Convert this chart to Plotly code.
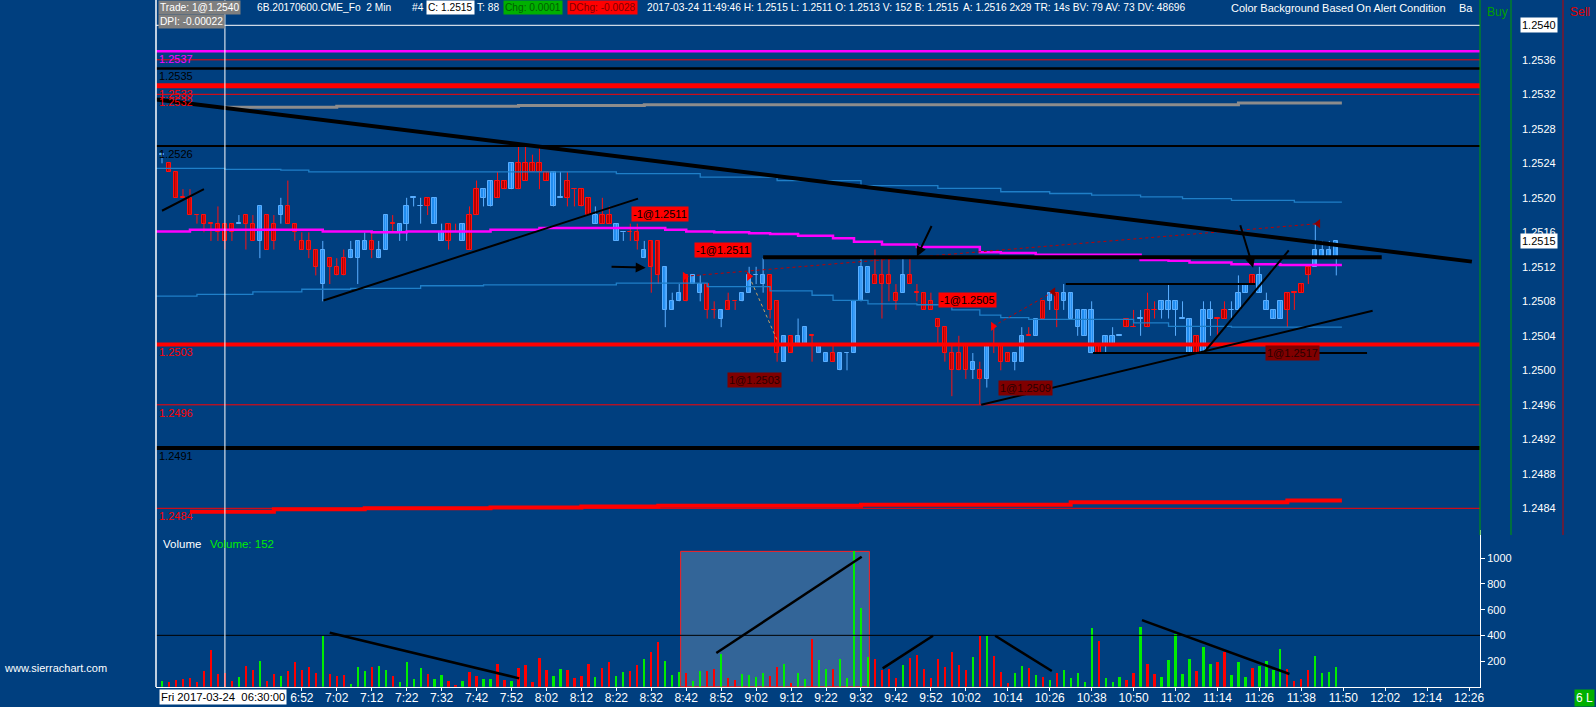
import plotly.graph_objects as go

# 6B 2 min bars, 06:12 .. 11:48 (bar index 0 = 06:12)
opens = [1.2525, 1.2524, 1.2523, 1.2520, 1.2520, 1.2518, 1.2518, 1.2517, 1.2517, 1.2517,
         1.2517, 1.2517, 1.2518, 1.2517, 1.2515, 1.2518, 1.2515, 1.2518, 1.2519, 1.2517,
         1.2515, 1.2515, 1.2514, 1.2510, 1.2513, 1.2512, 1.2511, 1.2513, 1.2513, 1.2515,
         1.2514, 1.2514, 1.2514, 1.2517, 1.2516, 1.2517, 1.2520, 1.2519, 1.2519, 1.2520,
         1.2516, 1.2515, 1.2516, 1.2517, 1.2514, 1.2518, 1.2521, 1.2522, 1.2520, 1.2522,
         1.2521, 1.2524, 1.2522, 1.2524, 1.2524, 1.2523, 1.2523, 1.2520, 1.2520, 1.2521,
         1.2521, 1.2520, 1.2518, 1.2517, 1.2518, 1.2517, 1.2516, 1.2516, 1.2516, 1.2514,
         1.2512, 1.2515, 1.2512, 1.2507, 1.2508, 1.2508, 1.2511, 1.2509, 1.2510, 1.2507,
         1.2506, 1.2508, 1.2508, 1.2508, 1.2509, 1.2511, 1.2510, 1.2511, 1.2508, 1.2501,
         1.2504, 1.2503, 1.2505, 1.2504, 1.2503, 1.2501, 1.2502, 1.2500, 1.2502, 1.2502,
         1.2508, 1.2512, 1.2510, 1.2511, 1.2511, 1.2509, 1.2509, 1.2511, 1.2509, 1.2509,
         1.2508, 1.2506, 1.2505, 1.2502, 1.2500, 1.2503, 1.2501, 1.2500, 1.2499, 1.2503,
         1.2503, 1.2501, 1.2502, 1.2501, 1.2504, 1.2504, 1.2506, 1.2508, 1.2509, 1.2508,
         1.2509, 1.2507, 1.2504, 1.2507, 1.2502, 1.2503, 1.2504, 1.2504, 1.2505, 1.2505,
         1.2506, 1.2505, 1.2507, 1.2507, 1.2507, 1.2508, 1.2506, 1.2506, 1.2502, 1.2502,
         1.2507, 1.2506, 1.2506, 1.2507, 1.2507, 1.2509, 1.2510, 1.2511, 1.2508, 1.2507,
         1.2506, 1.2507, 1.2509, 1.2509, 1.2511, 1.2512, 1.2514, 1.2513, 1.2513]
highs = [1.2525, 1.2524, 1.2523, 1.2521, 1.2521, 1.2518, 1.2518, 1.2517, 1.2519, 1.2517,
         1.2517, 1.2518, 1.2518, 1.2518, 1.2519, 1.2518, 1.2518, 1.2520, 1.2522, 1.2517,
         1.2516, 1.2516, 1.2514, 1.2515, 1.2513, 1.2513, 1.2514, 1.2515, 1.2515, 1.2516,
         1.2516, 1.2515, 1.2518, 1.2518, 1.2517, 1.2520, 1.2520, 1.2520, 1.2520, 1.2520,
         1.2517, 1.2517, 1.2517, 1.2517, 1.2519, 1.2522, 1.2521, 1.2522, 1.2523, 1.2522,
         1.2524, 1.2526, 1.2526, 1.2525, 1.2526, 1.2523, 1.2523, 1.2523, 1.2523, 1.2521,
         1.2521, 1.2520, 1.2519, 1.2520, 1.2519, 1.2517, 1.2516, 1.2517, 1.2517, 1.2515,
         1.2515, 1.2515, 1.2512, 1.2509, 1.2510, 1.2511, 1.2511, 1.2511, 1.2510, 1.2508,
         1.2507, 1.2509, 1.2508, 1.2509, 1.2512, 1.2512, 1.2513, 1.2511, 1.2508, 1.2504,
         1.2504, 1.2506, 1.2505, 1.2504, 1.2503, 1.2502, 1.2503, 1.2502, 1.2502, 1.2508,
         1.2513, 1.2512, 1.2514, 1.2513, 1.2513, 1.2510, 1.2513, 1.2513, 1.2510, 1.2509,
         1.2509, 1.2506, 1.2505, 1.2503, 1.2504, 1.2503, 1.2502, 1.2501, 1.2503, 1.2505,
         1.2503, 1.2502, 1.2502, 1.2505, 1.2505, 1.2506, 1.2508, 1.2509, 1.2509, 1.2510,
         1.2509, 1.2507, 1.2507, 1.2508, 1.2503, 1.2504, 1.2505, 1.2504, 1.2506, 1.2507,
         1.2507, 1.2509, 1.2508, 1.2508, 1.2510, 1.2508, 1.2508, 1.2506, 1.2504, 1.2508,
         1.2508, 1.2506, 1.2508, 1.2508, 1.2511, 1.2510, 1.2511, 1.2512, 1.2509, 1.2507,
         1.2508, 1.2509, 1.2509, 1.2510, 1.2512, 1.2517, 1.2515, 1.2515, 1.2515]
lows = [1.2524, 1.2523, 1.2520, 1.2520, 1.2518, 1.2517, 1.2516, 1.2515, 1.2515, 1.2514,
        1.2515, 1.2517, 1.2514, 1.2515, 1.2513, 1.2514, 1.2514, 1.2517, 1.2517, 1.2515,
        1.2514, 1.2513, 1.2511, 1.2508, 1.2510, 1.2511, 1.2511, 1.2513, 1.2510, 1.2514,
        1.2513, 1.2513, 1.2514, 1.2516, 1.2515, 1.2515, 1.2519, 1.2517, 1.2518, 1.2517,
        1.2515, 1.2514, 1.2516, 1.2515, 1.2514, 1.2518, 1.2519, 1.2519, 1.2520, 1.2521,
        1.2521, 1.2521, 1.2522, 1.2523, 1.2521, 1.2522, 1.2519, 1.2520, 1.2519, 1.2519,
        1.2519, 1.2518, 1.2517, 1.2517, 1.2517, 1.2515, 1.2515, 1.2515, 1.2514, 1.2513,
        1.2509, 1.2510, 1.2505, 1.2507, 1.2508, 1.2508, 1.2510, 1.2508, 1.2506, 1.2506,
        1.2505, 1.2507, 1.2507, 1.2508, 1.2509, 1.2510, 1.2509, 1.2506, 1.2501, 1.2501,
        1.2502, 1.2503, 1.2503, 1.2501, 1.2502, 1.2501, 1.2501, 1.2500, 1.2500, 1.2502,
        1.2508, 1.2509, 1.2510, 1.2506, 1.2508, 1.2507, 1.2509, 1.2510, 1.2508, 1.2507,
        1.2507, 1.2503, 1.2501, 1.2497, 1.2500, 1.2499, 1.2499, 1.2496, 1.2498, 1.2502,
        1.2500, 1.2501, 1.2500, 1.2501, 1.2504, 1.2504, 1.2506, 1.2507, 1.2505, 1.2507,
        1.2506, 1.2504, 1.2504, 1.2502, 1.2502, 1.2502, 1.2503, 1.2504, 1.2505, 1.2505,
        1.2504, 1.2505, 1.2506, 1.2506, 1.2506, 1.2504, 1.2506, 1.2502, 1.2502, 1.2502,
        1.2504, 1.2504, 1.2506, 1.2506, 1.2507, 1.2509, 1.2510, 1.2509, 1.2507, 1.2506,
        1.2506, 1.2505, 1.2507, 1.2509, 1.2510, 1.2512, 1.2513, 1.2513, 1.2511]
closes = [1.2525, 1.2523, 1.2520, 1.2520, 1.2518, 1.2518, 1.2517, 1.2517, 1.2516, 1.2515,
          1.2516, 1.2517, 1.2517, 1.2515, 1.2519, 1.2514, 1.2517, 1.2519, 1.2517, 1.2516,
          1.2514, 1.2514, 1.2512, 1.2514, 1.2512, 1.2511, 1.2513, 1.2514, 1.2515, 1.2514,
          1.2515, 1.2513, 1.2518, 1.2517, 1.2517, 1.2519, 1.2520, 1.2519, 1.2520, 1.2517,
          1.2515, 1.2517, 1.2516, 1.2515, 1.2518, 1.2521, 1.2520, 1.2519, 1.2522, 1.2521,
          1.2524, 1.2521, 1.2524, 1.2523, 1.2523, 1.2522, 1.2519, 1.2520, 1.2522, 1.2521,
          1.2519, 1.2518, 1.2517, 1.2518, 1.2517, 1.2515, 1.2516, 1.2516, 1.2515, 1.2513,
          1.2515, 1.2511, 1.2507, 1.2508, 1.2509, 1.2511, 1.2510, 1.2510, 1.2507, 1.2507,
          1.2507, 1.2507, 1.2508, 1.2509, 1.2511, 1.2511, 1.2511, 1.2507, 1.2502, 1.2504,
          1.2502, 1.2504, 1.2503, 1.2504, 1.2502, 1.2502, 1.2501, 1.2502, 1.2502, 1.2508,
          1.2512, 1.2509, 1.2511, 1.2510, 1.2510, 1.2508, 1.2511, 1.2510, 1.2509, 1.2507,
          1.2507, 1.2505, 1.2502, 1.2500, 1.2502, 1.2500, 1.2500, 1.2499, 1.2503, 1.2503,
          1.2501, 1.2502, 1.2501, 1.2504, 1.2504, 1.2506, 1.2508, 1.2509, 1.2507, 1.2509,
          1.2506, 1.2505, 1.2507, 1.2502, 1.2503, 1.2504, 1.2503, 1.2504, 1.2506, 1.2505,
          1.2506, 1.2507, 1.2507, 1.2508, 1.2508, 1.2507, 1.2506, 1.2502, 1.2504, 1.2507,
          1.2506, 1.2506, 1.2507, 1.2507, 1.2509, 1.2510, 1.2511, 1.2509, 1.2507, 1.2506,
          1.2508, 1.2509, 1.2509, 1.2510, 1.2512, 1.2514, 1.2513, 1.2514, 1.2515]
volumes = [44, 36, 52, 60, 70, 39, 122, 286, 99, 104,
           44, 78, 161, 130, 200, 44, 99, 86, 122, 192,
           130, 153, 106, 395, 99, 86, 91, 21, 153, 122,
           153, 161, 130, 86, 36, 192, 60, 145, 99, 60,
           91, 44, 13, 44, 114, 83, 60, 60, 177, 52,
           44, 145, 169, 39, 223, 130, 83, 138, 130, 67,
           83, 177, 75, 145, 192, 83, 114, 122, 169, 215,
           270, 348, 200, 91, 114, 106, 44, 122, 122, 138,
           254, 70, 52, 99, 91, 75, 106, 86, 153, 177,
           29, 106, 60, 371, 210, 138, 138, 215, 67, 1057,
           613, 231, 215, 130, 138, 67, 169, 223, 247, 138,
           67, 215, 153, 270, 169, 130, 231, 397, 397, 239,
           114, 29, 106, 161, 145, 91, 75, 52, 106, 130,
           67, 106, 36, 457, 356, 67, 36, 75, 52, 106,
           465, 177, 99, 75, 208, 410, 99, 215, 122, 309,
           177, 192, 270, 91, 192, 75, 145, 161, 200, 130,
           293, 138, 44, 60, 130, 239, 106, 114, 152]
# u = up bar (blue candle / green volume), d = down bar (red)
direction = ("udddddddddduddudduddddduddduuuduuduuuuduuddudduudduddddduuddddudduuddudd"
             "uuuduuddudduuuudduduuduuduuuuuddddudddddddddududdduudududuuuuuduuuddudduuuuu"
             "duudduuuduuuudddduuuuduuuuddduuuuuuu")
direction = direction[:len(opens)]

tick_bars = [20, 25, 30, 35, 40, 45, 50, 55, 60, 65, 70, 75, 80, 85, 90, 95, 100, 105, 110,
             115, 121, 127, 133, 139, 145, 151, 157, 163, 169, 175, 181, 187]
tick_labels = ["6:52", "7:02", "7:12", "7:22", "7:32", "7:42", "7:52", "8:02", "8:12", "8:22",
               "8:32", "8:42", "8:52", "9:02", "9:12", "9:22", "9:32", "9:42", "9:52", "10:02",
               "10:14", "10:26", "10:38", "10:50", "11:02", "11:14", "11:26", "11:38", "11:50",
               "12:02", "12:14", "12:26"]
price_ticks = [1.2484, 1.2488, 1.2492, 1.2496, 1.2500, 1.2504, 1.2508, 1.2512, 1.2516,
               1.2520, 1.2524, 1.2528, 1.2532, 1.2536, 1.2540]
volume_ticks = [200, 400, 600, 800, 1000]

# study lines (stepped), breakpoints as bar index / value
vwap_bars = [-1, 4, 23, 30, 35, 47, 54, 63, 72, 75, 79, 84, 87, 91, 96, 99, 103, 108, 117,
             120, 125, 140, 144, 147, 153, 160, 168.8]
vwap_vals = [1.25161, 1.25163, 1.25161, 1.25160, 1.25161, 1.25163, 1.25165, 1.25165, 1.25163,
             1.25161, 1.25160, 1.25159, 1.25158, 1.25156, 1.25153, 1.25149, 1.25146, 1.25143,
             1.25137, 1.25136, 1.25134, 1.25128, 1.25127, 1.25125, 1.25123, 1.25122, 1.25122]
upper_bars = [-1, 9, 17, 21, 46, 65, 77, 88, 100, 111, 120, 127, 133, 140, 146, 153, 162, 168.8]
upper_vals = [1.25234, 1.25233, 1.25232, 1.25230, 1.25230, 1.25228, 1.25224, 1.25220, 1.25214,
              1.25211, 1.25207, 1.25205, 1.25203, 1.25201, 1.25199, 1.25197, 1.25195, 1.25195]
lower_bars = [-1, 5, 13, 20, 27, 37, 46, 65, 78, 87, 93, 96, 101, 108, 113, 117, 120, 124,
              139, 144, 153, 168.8]
lower_vals = [1.25086, 1.25088, 1.25091, 1.25094, 1.25095, 1.25098, 1.25099, 1.25101, 1.25097,
              1.25092, 1.25087, 1.25081, 1.25077, 1.25076, 1.25070, 1.25064, 1.25061, 1.25059,
              1.25055, 1.25051, 1.25050, 1.25050]
gray_bars = [9, 25, 51, 69, 154, 168.8]
gray_vals = [1.25305, 1.25306, 1.25307, 1.25308, 1.25310, 1.25310]
redband_bars = [4, 16, 29, 47, 60, 71, 100, 130, 161, 168.8]
redband_vals = [1.24836, 1.24839, 1.24840, 1.24841, 1.24842, 1.24843, 1.24844, 1.24847,
                1.24849, 1.24849]

# horizontal levels
level_prices = [1.2540, 1.2537, 1.2536, 1.2535, 1.2533, 1.2532, 1.2526, 1.2503, 1.2496, 1.2491, 1.2484]
level_colors = ["white", "#ff00ff", "#ff0000", "black", "#ff0000", "#ff0000", "black",
                "#ff0000", "#ff0000", "black", "#ff0000"]
level_widths = [1, 2.5, 1, 2.5, 5, 1, 2, 4, 1, 4, 1]
level_labels = [False, True, False, True, True, True, True, True, True, True, True]

# hand drawn trend lines: bar0, price0, bar1, price1, width
draw_lines = [(-0.86, 1.25314, 187.4, 1.25126, 4),
              (86.0, 1.25131, 174.5, 1.25131, 4),
              (0.0, 1.25185, 6.0, 1.25210, 2),
              (23.1, 1.25081, 68.1, 1.25199, 2),
              (149.2, 1.25022, 161.2, 1.25139, 2),
              (129.3, 1.25100, 156.4, 1.25100, 2),
              (133.2, 1.25020, 172.4, 1.25020, 2),
              (117.2, 1.24960, 173.2, 1.25069, 2)]
draw_arrows = [(64.1, 1.25120, 69.2, 1.25119),
               (110.2, 1.25169, 108.0, 1.25132),
               (154.2, 1.25170, 156.1, 1.25119)]
vol_lines = [(24.0, 420, 51.1, 65),
             (79.3, 262, 100.1, 1012),
             (103.1, 143, 110.3, 397),
             (119.2, 397, 127.3, 122),
             (140.2, 519, 161.3, 99)]

# trades
trade_text = ["-1@1.2511", "-1@1.2511", "1@1.2503", "-1@1.2505", "1@1.2509", "1@1.2517"]
trade_bar = [71.2, 80.3, 84.7, 115.3, 123.6, 161.7]
trade_price = [1.25181, 1.25140, 1.24989, 1.25081, 1.24979, 1.25020]
trade_sell = [True, True, False, True, False, False]
trade_path_x = [[74.8, 165.4], [84.0, 88.0], [118.9, 127.5]]
trade_path_y = [[1.25109, 1.25170], [1.25109, 1.25035], [1.25051, 1.25091]]

bg = "#003f7f"
up_fill, up_line = "#1f8cf0", "#5aaeff"
dn_fill, dn_line = "#b00000", "#ff1010"
W, H = 1596, 707
x_left, x_right = 156, 1480
bar_range = [-0.86, 188.56]
hdr_size = 10.2


def px(x):
    return x / W


def py(y):
    return 1 - y / H


fig = go.Figure()

# candles: wicks then bodies
for d, fill, edge in [("u", up_fill, up_line), ("d", dn_fill, dn_line)]:
    wx, wy = [], []
    bx, bbase, bh = [], [], []
    for i in range(len(opens)):
        if direction[i] != d:
            continue
        wx += [i, i, None]
        wy += [lows[i], highs[i], None]
        bx.append(i)
        bbase.append(min(opens[i], closes[i]))
        bh.append(max(abs(closes[i] - opens[i]), 0.000004))
    fig.add_trace(go.Scatter(x=wx, y=wy, mode="lines", line=dict(color=edge, width=1),
                             hoverinfo="skip", showlegend=False))
    fig.add_trace(go.Bar(x=bx, y=bh, base=bbase, width=0.62, marker=dict(color=fill, line=dict(color=edge, width=1)),
                         hoverinfo="skip", showlegend=False))

# studies
for bars, vals, color, width in [(upper_bars, upper_vals, "#1f7fc8", 1.3),
                                 (lower_bars, lower_vals, "#1f7fc8", 1.3),
                                 (vwap_bars, vwap_vals, "#ff00ff", 2.5),
                                 (gray_bars, gray_vals, "#8c8c8c", 3),
                                 (redband_bars, redband_vals, "#ff0000", 4)]:
    fig.add_trace(go.Scatter(x=bars, y=vals, mode="lines", line=dict(color=color, width=width, shape="hv"),
                             hoverinfo="skip", showlegend=False))

# trade connection lines + markers
for k, (tx, ty) in enumerate(zip(trade_path_x, trade_path_y)):
    fig.add_trace(go.Scatter(x=tx, y=ty, mode="lines",
                             line=dict(color="#c8a060" if k == 1 else "#c00000", width=1, dash="dot"),
                             hoverinfo="skip", showlegend=False))
fig.add_trace(go.Scatter(x=[74.8, 84.0, 118.9], y=[1.25109, 1.25109, 1.25051], mode="markers",
                         marker=dict(symbol="triangle-right", size=8, color="#ff0000"),
                         hoverinfo="skip", showlegend=False))
fig.add_trace(go.Scatter(x=[127.5, 165.4], y=[1.25091, 1.25170], mode="markers",
                         marker=dict(symbol="triangle-left", size=8, color="#8b0000"),
                         hoverinfo="skip", showlegend=False))

# volume
fig.add_trace(go.Bar(x=list(range(len(volumes))), y=volumes, width=0.32,
                     marker=dict(color=["#00ee00" if d == "u" else "#ff0000" for d in direction], line_width=0),
                     xaxis="x2", yaxis="y2", hoverinfo="skip", showlegend=False))

shapes = []
for p, c, w in zip(level_prices, level_colors, level_widths):
    shapes.append(dict(type="line", xref="x", yref="y", x0=bar_range[0], x1=bar_range[1], y0=p, y1=p,
                       line=dict(color=c, width=w), layer="above"))
for x0, p0, x1, p1, w in draw_lines:
    shapes.append(dict(type="line", xref="x", yref="y", x0=x0, y0=p0, x1=x1, y1=p1,
                       line=dict(color="black", width=w), layer="above"))
for x0, v0, x1, v1 in vol_lines:
    shapes.append(dict(type="line", xref="x2", yref="y2", x0=x0, y0=v0, x1=x1, y1=v1,
                       line=dict(color="black", width=2.5), layer="above"))
# volume: 400 reference line and the highlighted zone
shapes.append(dict(type="line", xref="x2", yref="y2", x0=bar_range[0], x1=bar_range[1], y0=400, y1=400,
                   line=dict(color="black", width=1)))
shapes.append(dict(type="rect", xref="x2", yref="y2", x0=74.2, x1=101.2, y0=0, y1=1054,
                   fillcolor="rgba(255,255,255,0.2)", line=dict(color="#ff2020", width=1), layer="below"))
# cursor, border and buy/sell columns
shapes.append(dict(type="line", xref="x", yref="paper", x0=9, x1=9, y0=py(687), y1=1,
                   line=dict(color="white", width=1), layer="above"))
shapes.append(dict(type="line", xref="paper", yref="paper", x0=px(x_left), x1=px(x_left), y0=py(687), y1=1,
                   line=dict(color="white", width=1.5)))
for xx, c in [(1480, "#00a000"), (1511, "#00a000"), (1563, "#c00000")]:
    shapes.append(dict(type="line", xref="paper", yref="paper", x0=px(xx), x1=px(xx), y0=py(535), y1=1,
                       line=dict(color=c, width=1)))

ann = []


def label(x, y, text, color="white", size=11, bg_=None, **kw):
    ann.append(dict(xref="paper", yref="paper", x=px(x), y=py(y), text=text, xanchor="left", yanchor="middle",
                    showarrow=False, font=dict(color=color, size=size), bgcolor=bg_, borderpad=1, **kw))


for p, c, lab in zip(level_prices, level_colors, level_labels):
    if lab:
        ann.append(dict(xref="paper", yref="y", x=px(157), y=p, yshift=-8, text=f"{p:.4f}",
                        xanchor="left", yanchor="middle", showarrow=False, font=dict(color=c, size=11)))
for t, b, p, s in zip(trade_text, trade_bar, trade_price, trade_sell):
    ann.append(dict(xref="x", yref="y", x=b, y=p, text=t, showarrow=False, yanchor="middle",
                    bgcolor="#ff0000" if s else "#800000", borderpad=1,
                    font=dict(color="black" if s else "#2a0000", size=11)))
for x0, p0, x1, p1 in draw_arrows:
    ann.append(dict(xref="x", yref="y", axref="x", ayref="y", x=x1, y=p1, ax=x0, ay=p0, text="",
                    showarrow=True, arrowhead=2, arrowsize=1, arrowwidth=2, arrowcolor="black"))

# header line
header = [(158, "Trade: 1@1.2540", "white", "#7f7f7f", hdr_size),
          (255, "6B.20170600.CME_Fo  2 Min", "white", None, hdr_size),
          (410, "#4", "white", None, hdr_size),
          (426, "C: 1.2515", "black", "white", hdr_size),
          (475, "T: 88", "white", None, hdr_size),
          (503, "Chg: 0.0001", "#006000", "#00b000", hdr_size),
          (567, "DChg: -0.0028", "#800000", "#ff0000", hdr_size),
          (645, "2017-03-24 11:49:46 H: 1.2515 L: 1.2511 O: 1.2513 V: 152 B: 1.2515", "white", None, hdr_size),
          (961, "A: 1.2516 2x29 TR: 14s BV: 79 AV: 73 DV: 48696", "white", None, hdr_size),
          (1229, "Color Background Based On Alert Condition", "white", None, 11),
          (1457, "Ba", "white", None, 11)]
for x, t, c, b, s in header:
    label(x, 8, t, c, s, b)
label(158, 22, "DPI: -0.00022", "white", hdr_size, "#7f7f7f")
label(1485, 12, "Buy", "#00a000", 12)
label(1568, 12, "Sell", "#e00000", 12)
for p in [1.2540, 1.2515]:
    ann.append(dict(xref="paper", yref="y", x=px(1520), y=p, text=f"{p:.4f}", xanchor="left", yanchor="middle",
                    showarrow=False, font=dict(color="black", size=11), bgcolor="white", borderpad=1))
label(161, 544, "Volume", "white", 11.5)
label(208, 544, f"Volume: {volumes[-1]}", "#00ee00", 11.5)
label(2, 668, "www.sierrachart.com", "white", 11)
label(159, 697, "Fri 2017-03-24  06:30:00", "black", 11.3, "white")
label(1574, 698, "6 L", "white", 12, "#00b000")

fig.update_layout(
    width=W, height=H,
    margin=dict(l=0, r=0, t=0, b=0),
    paper_bgcolor=bg, plot_bgcolor=bg,
    barmode="overlay", bargap=0,
    font=dict(family="Liberation Sans", color="white"),
    showlegend=False,
    shapes=shapes, annotations=ann,
    xaxis=dict(domain=[px(x_left), px(x_right)], range=bar_range, anchor="y", showticklabels=False,
               showgrid=False, zeroline=False, showline=False, ticks=""),
    yaxis=dict(domain=[py(524), 1], range=[1.2540 - (524 - 25.3) / 86250, 1.2540 + 25.3 / 86250],
               side="right", anchor="x", tickvals=price_ticks, ticktext=[f"{p:.4f}" for p in price_ticks],
               ticks="", ticklabelstandoff=41, tickfont=dict(color="white", size=11),
               showgrid=False, zeroline=False, showline=False, automargin=False),
    xaxis2=dict(domain=[px(x_left), px(x_right)], range=bar_range, anchor="y2", tickvals=tick_bars,
                ticktext=tick_labels, ticks="outside", ticklen=3, tickcolor="white", ticklabelstandoff=-3,
                tickfont=dict(color="white", size=12), showline=True, linecolor="white", linewidth=1,
                showgrid=False, zeroline=False, automargin=False),
    yaxis2=dict(domain=[py(686.7), py(530)], range=[0, (686.7 - 530) / 0.1284], side="right", anchor="x2",
                tickvals=volume_ticks, ticks="outside", ticklen=4, tickcolor="white",
                tickfont=dict(color="white", size=11), showline=True, linecolor="white", linewidth=1,
                showgrid=False, zeroline=False, automargin=False),
)

# the page body has an 8px default margin; drop it so the chart sits at the window corner
fig.write_html("out.html", config={"displayModeBar": False},
               post_script="document.body.style.margin='0';document.body.style.overflow='hidden';")
